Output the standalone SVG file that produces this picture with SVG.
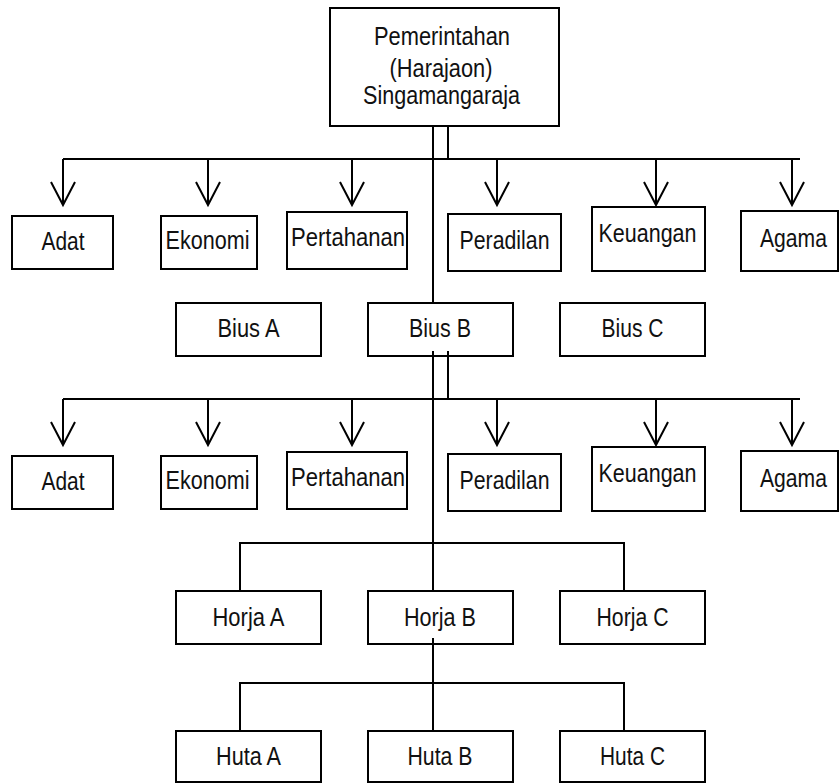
<svg xmlns="http://www.w3.org/2000/svg" width="840" height="783" viewBox="0 0 840 783">
  <style>
    .box { fill: #fff; stroke: #000; stroke-width: 2; }
    .lbl { font-family: "Liberation Sans", Arial, sans-serif; font-size: 25px; fill: #111; text-anchor: middle; }
    .ln { fill: none; stroke: #000; stroke-width: 2; }
  </style>
  <defs>
    <marker id="vee" markerUnits="userSpaceOnUse" viewBox="-25 -14 28 28" refX="0" refY="0" markerWidth="28" markerHeight="28" orient="auto">
      <path d="M-23,-12 L0,0 L-23,12" fill="none" stroke="#000" stroke-width="2"/>
    </marker>
    <!-- one row of six departments; reused under the king and under Bius B -->
    <g id="deptRow">
      <g id="adat"><rect class="box" x="12" y="216" width="101" height="53"/><text class="lbl" x="63" y="250" textLength="43" lengthAdjust="spacingAndGlyphs">Adat</text></g>
      <g id="ekonomi"><rect class="box" x="161" y="216" width="96" height="53"/><text class="lbl" x="207.5" y="249" textLength="84" lengthAdjust="spacingAndGlyphs">Ekonomi</text></g>
      <g id="pertahanan"><rect class="box" x="287" y="212" width="120" height="57"/><text class="lbl" x="348" y="246" textLength="114" lengthAdjust="spacingAndGlyphs">Pertahanan</text></g>
      <g id="peradilan"><rect class="box" x="448" y="214" width="113" height="57"/><text class="lbl" x="504.5" y="249" textLength="90" lengthAdjust="spacingAndGlyphs">Peradilan</text></g>
      <g id="keuangan"><rect class="box" x="592" y="207" width="113" height="64"/><text class="lbl" x="647.5" y="242" textLength="98" lengthAdjust="spacingAndGlyphs">Keuangan</text></g>
      <g id="agama"><rect class="box" x="741" y="211" width="97" height="60"/><text class="lbl" x="793.5" y="247" textLength="67" lengthAdjust="spacingAndGlyphs">Agama</text></g>
    </g>
  </defs>

  <!-- nodes -->
  <g id="raja">
    <rect class="box" x="330" y="8" width="229" height="118"/>
    <text class="lbl" x="442" y="45" textLength="136" lengthAdjust="spacingAndGlyphs">Pemerintahan</text>
    <text class="lbl" x="441" y="77" textLength="103" lengthAdjust="spacingAndGlyphs">(Harajaon)</text>
    <text class="lbl" x="441.5" y="104" textLength="157" lengthAdjust="spacingAndGlyphs">Singamangaraja</text>
  </g>

  <use id="dept-raja" href="#deptRow"/>

  <g id="bius-a"><rect class="box" x="176" y="303" width="145" height="53"/><text class="lbl" x="248.5" y="337" textLength="62" lengthAdjust="spacingAndGlyphs">Bius A</text></g>
  <g id="bius-b"><rect class="box" x="368" y="303" width="145" height="53"/><text class="lbl" x="440" y="337" textLength="62" lengthAdjust="spacingAndGlyphs">Bius B</text></g>
  <g id="bius-c"><rect class="box" x="560" y="303" width="145" height="53"/><text class="lbl" x="632.5" y="337" textLength="62" lengthAdjust="spacingAndGlyphs">Bius C</text></g>

  <use id="dept-bius" href="#deptRow" transform="translate(0,240)"/>

  <g id="horja-a"><rect class="box" x="176" y="591" width="145" height="53"/><text class="lbl" x="248.5" y="626" textLength="72" lengthAdjust="spacingAndGlyphs">Horja A</text></g>
  <g id="horja-b"><rect class="box" x="368" y="591" width="145" height="53"/><text class="lbl" x="440" y="626" textLength="72" lengthAdjust="spacingAndGlyphs">Horja B</text></g>
  <g id="horja-c"><rect class="box" x="560" y="591" width="145" height="53"/><text class="lbl" x="632.5" y="626" textLength="72" lengthAdjust="spacingAndGlyphs">Horja C</text></g>

  <g id="huta-a"><rect class="box" x="176" y="731" width="145" height="51"/><text class="lbl" x="248.5" y="765" textLength="65" lengthAdjust="spacingAndGlyphs">Huta A</text></g>
  <g id="huta-b"><rect class="box" x="368" y="731" width="145" height="51"/><text class="lbl" x="440" y="765" textLength="65" lengthAdjust="spacingAndGlyphs">Huta B</text></g>
  <g id="huta-c"><rect class="box" x="560" y="731" width="145" height="51"/><text class="lbl" x="632.5" y="765" textLength="65" lengthAdjust="spacingAndGlyphs">Huta C</text></g>

  <!-- connectors -->
  <g id="connectors" class="ln">
    <path d="M433,126V159M448,126V159"/>
    <path d="M63,159H800"/>
    <path marker-end="url(#vee)" d="M63,159V205"/>
    <path marker-end="url(#vee)" d="M208,159V205"/>
    <path marker-end="url(#vee)" d="M352,159V205"/>
    <path marker-end="url(#vee)" d="M497,159V205"/>
    <path marker-end="url(#vee)" d="M656,159V205"/>
    <path marker-end="url(#vee)" d="M792,159V205"/>
    <path d="M433,159V303"/>

    <path d="M433,351V399M448,351V399"/>
    <path d="M63,399H800"/>
    <path marker-end="url(#vee)" d="M63,399V445"/>
    <path marker-end="url(#vee)" d="M208,399V445"/>
    <path marker-end="url(#vee)" d="M352,399V445"/>
    <path marker-end="url(#vee)" d="M497,399V445"/>
    <path marker-end="url(#vee)" d="M656,399V445"/>
    <path marker-end="url(#vee)" d="M792,399V445"/>
    <path d="M433,399V591"/>

    <path d="M240,591V543H624V591"/>
    <path d="M433,638V731"/>
    <path d="M240,731V683H624V731"/>
  </g>
</svg>
